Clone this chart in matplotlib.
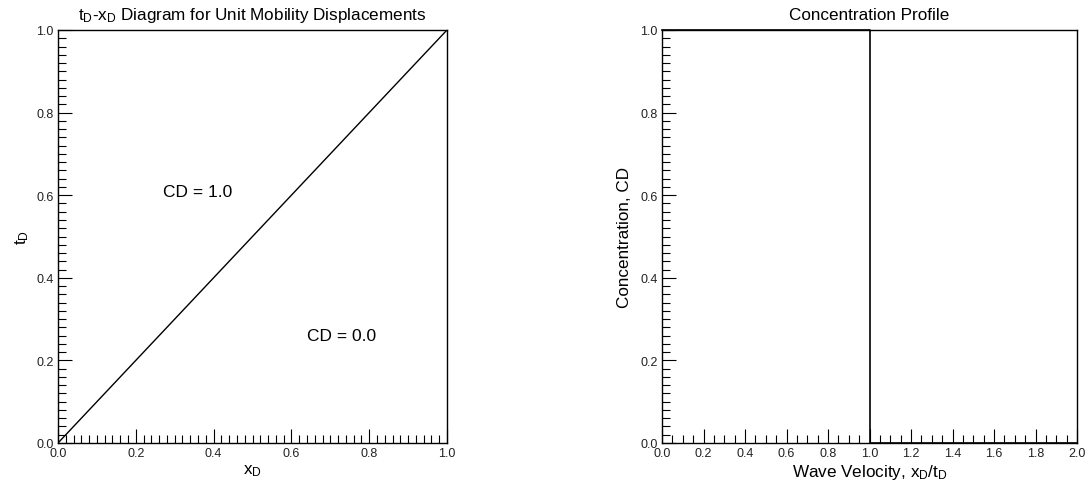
import matplotlib.pyplot as plt
from matplotlib.ticker import MultipleLocator

plt.rcParams['font.family'] = ['Liberation Sans', 'DejaVu Sans']

# data
td_xd_x = [0.0, 1.0]
td_xd_y = [0.0, 1.0]
profile_v = [0.0, 1.0, 1.0, 2.0]
profile_c = [1.0, 1.0, 0.0, 0.0]
region_labels = ['CD = 1.0', 'CD = 0.0']
region_pos = [(0.36, 0.61), (0.73, 0.26)]

fig = plt.figure(figsize=(10.85, 4.85), dpi=100)
ax1 = fig.add_axes([58 / 1085, 1 - 444 / 485, 389 / 1085, 413 / 485])
ax2 = fig.add_axes([662 / 1085, 1 - 444 / 485, 415 / 1085, 413 / 485])


def style(ax, xmax, xminor):
    ax.set_xlim(0, xmax)
    ax.set_ylim(0, 1)
    ax.xaxis.set_major_locator(MultipleLocator(0.2))
    ax.xaxis.set_minor_locator(MultipleLocator(xminor))
    ax.yaxis.set_major_locator(MultipleLocator(0.2))
    ax.yaxis.set_minor_locator(MultipleLocator(0.02))
    ax.xaxis.set_major_formatter(lambda v, p: f'{v:.1f}')
    ax.yaxis.set_major_formatter(lambda v, p: f'{v:.1f}')
    ax.tick_params(which='both', direction='in', top=False, right=False,
                   labelsize=9, width=0.8, pad=3, labelcolor='#222222')
    ax.tick_params(which='major', length=10)
    ax.tick_params(which='minor', length=6)
    for s in ax.spines.values():
        s.set_linewidth(1.0)


ax1.plot(td_xd_x, td_xd_y, color='black', lw=1.0)
for lab, (x, y) in zip(region_labels, region_pos):
    ax1.text(x, y, lab, ha='center', va='center', fontsize=12.5)
style(ax1, 1.0, 0.02)
ax1.set_title(r'$\mathregular{t_D}$-$\mathregular{x_D}$ Diagram for Unit Mobility Displacements',
              fontsize=12.3, pad=8)
ax1.set_xlabel(r'$\mathregular{x_D}$', fontsize=12.3, labelpad=2)
ax1.set_ylabel(r'$\mathregular{t_D}$', fontsize=12.3, labelpad=4)

ax2.plot(profile_v, profile_c, color='black', lw=1.2, clip_on=False)
style(ax2, 2.0, 0.05)
ax2.set_title('Concentration Profile', fontsize=12.3, pad=8)
ax2.set_xlabel(r'Wave Velocity, $\mathregular{x_D/t_D}$', fontsize=12.3, labelpad=2)
ax2.set_ylabel('Concentration, CD', fontsize=12.3, labelpad=6)

plt.savefig('out.png', dpi=100)
